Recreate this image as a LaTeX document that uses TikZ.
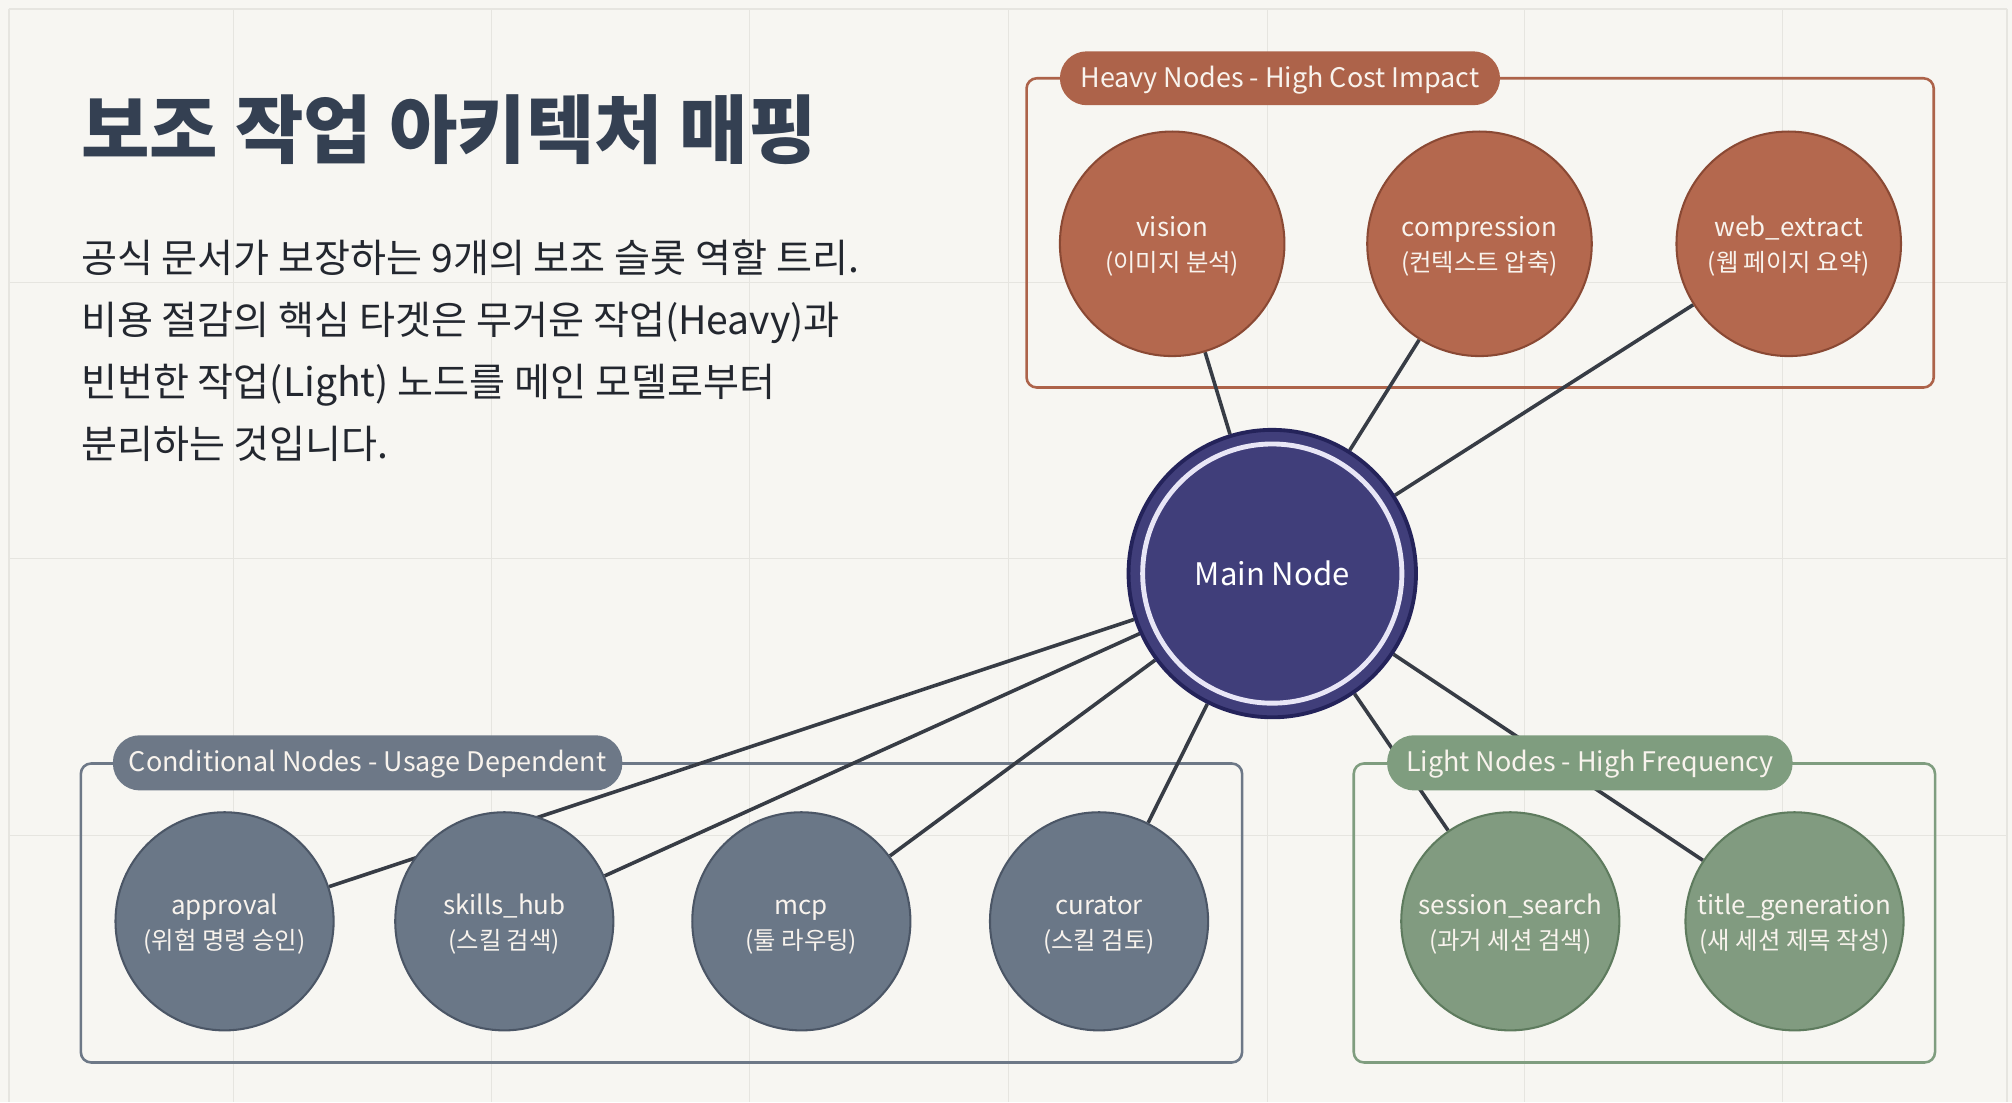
\documentclass[tikz,border=0pt]{standalone}
\usepackage{fontspec}
\setmainfont{Noto Sans CJK KR}
\pgfdeclarelayer{back}
\pgfdeclarelayer{mid}
\pgfsetlayers{back,mid,main}
\definecolor{bgc}{HTML}{F7F6F2}
\definecolor{gridc}{HTML}{E6E5E0}
\definecolor{titlec}{HTML}{344052}
\definecolor{bodyc}{HTML}{23272F}
\definecolor{heavyf}{HTML}{B4684E}
\definecolor{heavyd}{HTML}{8A4934}
\definecolor{heavyb}{HTML}{AD634A}
\definecolor{condf}{HTML}{6A7787}
\definecolor{condd}{HTML}{4B5666}
\definecolor{condb}{HTML}{6D7887}
\definecolor{lightf}{HTML}{819B80}
\definecolor{lightd}{HTML}{5E7B5E}
\definecolor{lightb}{HTML}{7F9D7F}
\definecolor{mainf}{HTML}{403E7A}
\definecolor{maind}{HTML}{24235A}
\definecolor{ringc}{HTML}{E8E6F6}
\definecolor{linec}{HTML}{373C45}
\definecolor{labc}{HTML}{F8F3ED}
\newcommand\tasktext[2]{{\fontsize{20.2}{27}\selectfont\rule{0pt}{20pt}#1}\\{\fontsize{19}{27}\selectfont #2}}
\begin{document}
\begin{tikzpicture}[x=1pt,y=-1pt,
  gridline/.style={draw=gridc, line width=1},
  groupbox/.style={rounded corners=8, line width=2},
  pill/.style={rounded corners=21, minimum height=42, inner sep=0, text height=17, text depth=3, text=labc, font=\fontsize{21}{26}\selectfont},
  task/.style={circle, inner sep=0, line width=1.6, text=labc, align=center, font=\fontsize{20}{27}\selectfont},
  heavynode/.style={task, fill=heavyf, draw=heavyd, minimum size=175},
  condnode/.style={task, fill=condf, draw=condd, minimum size=170},
  lightnode/.style={task, fill=lightf, draw=lightd, minimum size=170},
  conn/.style={draw=linec, line width=2.8},
  bodytext/.style={anchor=base west, inner sep=0, text=bodyc, font=\fontsize{30.5}{36}\selectfont}]
\useasboundingbox (0,0) rectangle (1568,859);

% title and description
\node[anchor=base west, inner sep=0, text=titlec, font=\bfseries\fontsize{58}{64}\selectfont] (title) at (63,123) {보조 작업 아키텍처 매핑};
\node[bodytext] (l1) at (63,212) {공식 문서가 보장하는 9개의 보조 슬롯 역할 트리.};
\node[bodytext] (l2) at (63,260.5) {비용 절감의 핵심 타겟은 무거운 작업(Heavy)과};
\node[bodytext] (l3) at (63,309) {빈번한 작업(Light) 노드를 메인 모델로부터};
\node[bodytext] (l4) at (63,357.5) {분리하는 것입니다.};

% main node
\node[circle, inner sep=0, minimum size=224, fill=mainf, draw=maind, line width=3, text=white, font=\fontsize{24.2}{30}\selectfont] (main) at (991.5,447) {Main Node};
\draw[ringc, line width=3.8] (main.center) circle[radius=101];

% heavy
\node[heavynode] (vision) at (913.5,190) {\tasktext{vision}{(이미지 분석)}};
\node[heavynode] (compression) at (1153,190) {\tasktext{compression}{(컨텍스트 압축)}};
\node[heavynode] (webextract) at (1394,190) {\tasktext{web\_extract}{(웹 페이지 요약)}};

% conditional
\node[condnode] (approval) at (175,718) {\tasktext{approval}{(위험 명령 승인)}};
\node[condnode] (skillshub) at (393,718) {\tasktext{skills\_hub}{(스킬 검색)}};
\node[condnode] (mcp) at (624.5,718) {\tasktext{mcp}{(툴 라우팅)}};
\node[condnode] (curator) at (856.5,718) {\tasktext{curator}{(스킬 검토)}};

% light
\node[lightnode] (sessionsearch) at (1177,718) {\tasktext{session\_search}{(과거 세션 검색)}};
\node[lightnode] (titlegen) at (1398.5,718) {\tasktext{title\_generation}{(새 세션 제목 작성)}};

% group pills
\node[pill, fill=heavyb, minimum width=343] (heavypill) at (997.5,61) {Heavy Nodes - High Cost Impact};
\node[pill, fill=condb, minimum width=397, minimum height=43] (condpill) at (286.5,594.5) {Conditional Nodes - Usage Dependent};
\node[pill, fill=lightb, minimum width=316, minimum height=43] (lightpill) at (1239,594.5) {Light Nodes - High Frequency};

% connectors
\begin{pgfonlayer}{mid}
\draw[conn] (main) -- (vision);
\draw[conn] (main) -- (compression);
\draw[conn] (main) -- (webextract);
\draw[conn] (main) -- (approval);
\draw[conn] (main) -- (skillshub);
\draw[conn] (main) -- (mcp);
\draw[conn] (main) -- (curator);
\draw[conn] (main) -- (sessionsearch);
\draw[conn] (main) -- (titlegen);
\end{pgfonlayer}

% background, grid, group boxes
\begin{pgfonlayer}{back}
\fill[bgc] (0,0) rectangle (1568,859);
\foreach \gx in {7,182,383,584,786,988,1188,1389,1564} \draw[gridline] (\gx,7) -- (\gx,859);
\foreach \gy in {7,220,435,651} \draw[gridline] (7,\gy) -- (1564,\gy);
\draw[groupbox, draw=heavyb] (800,61) rectangle (1507,302);
\draw[groupbox, draw=condb] (63,595) rectangle (968,828);
\draw[groupbox, draw=lightb] (1055,595) rectangle (1508,828);
\end{pgfonlayer}
\end{tikzpicture}
\end{document}
